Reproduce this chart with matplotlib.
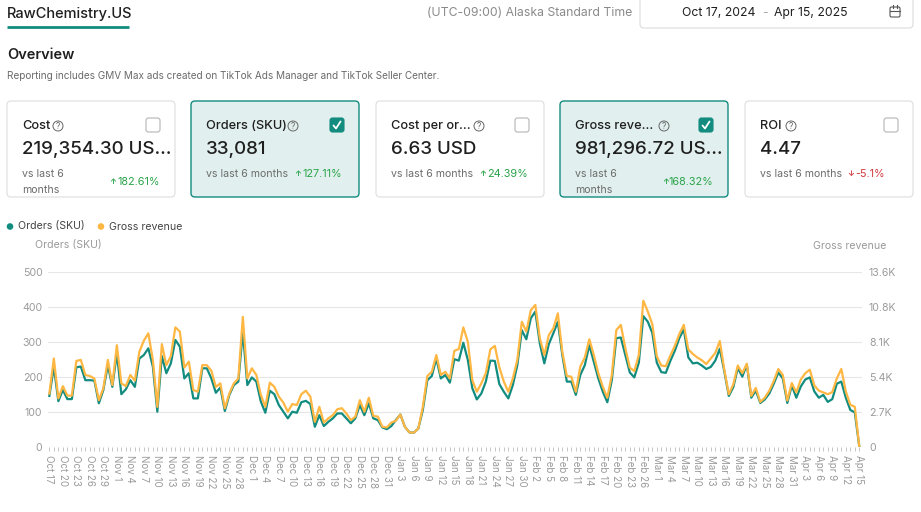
import numpy as np
import pandas as pd
import matplotlib
matplotlib.use("Agg")
import matplotlib.pyplot as plt
from matplotlib.patches import FancyBboxPatch, Circle

plt.rcParams['font.family'] = ['Inter', 'DejaVu Sans']

# daily values Oct 17, 2024 - Apr 15, 2025
dates = pd.date_range('2024-10-17', '2025-04-15', freq='D')
orders = [145, 228, 130, 162, 136, 136, 227, 229, 190, 190, 189, 124, 162, 233, 171,
          267, 150, 164, 190, 171, 252, 262, 281, 229, 100, 259, 210, 238, 305, 286,
          195, 210, 138, 138, 224, 224, 195, 154, 169, 102, 148, 176, 186, 329, 176,
          198, 186, 129, 97, 160, 150, 119, 100, 81, 100, 97, 127, 131, 122, 57,
          90, 59, 71, 81, 95, 95, 81, 67, 81, 119, 90, 124, 81, 76, 55,
          50, 59, 76, 92, 57, 41, 40, 52, 105, 190, 202, 252, 195, 205, 183,
          250, 246, 297, 248, 167, 135, 152, 186, 246, 245, 179, 157, 138, 176, 233,
          333, 307, 367, 386, 295, 238, 293, 324, 357, 262, 186, 186, 148, 205, 233,
          290, 243, 195, 157, 127, 190, 310, 312, 262, 212, 198, 240, 373, 357, 325,
          240, 213, 211, 245, 274, 310, 335, 255, 238, 240, 232, 222, 228, 246, 280,
          215, 145, 170, 225, 200, 235, 140, 160, 125, 135, 152, 180, 212, 195, 125,
          175, 140, 172, 192, 198, 158, 140, 148, 128, 136, 180, 186, 140, 105, 98, 0]
gross_revenue = [4134, 6854, 3754, 4706, 3971, 3971, 6664, 6746, 5576, 5494, 5304, 3618, 4542, 6746, 4787,
                 7888, 4923, 4706, 5576, 5141, 7371, 8242, 8813, 6746, 3101, 7970, 6338, 7045, 9275, 8949,
                 6147, 6610, 4406, 4270, 6338, 6338, 5902, 4651, 4923, 2992, 4134, 4923, 5304, 10091, 5304,
                 6093, 5576, 4026, 3101, 4978, 4651, 3890, 3427, 2720, 3318, 3237, 4080, 4352, 3890, 1931,
                 3101, 1877, 2203, 2448, 2910, 2992, 2584, 2067, 2339, 3618, 2720, 3808, 2394, 2339, 1550,
                 1496, 1877, 2013, 2502, 1550, 1115, 1088, 1414, 3101, 5494, 5821, 7126, 5576, 5821, 5304,
                 7453, 7589, 9275, 8160, 5168, 4270, 4923, 5712, 7562, 7834, 6174, 5059, 4270, 5304, 6746,
                 9710, 8949, 10608, 11016, 8432, 7126, 8677, 9194, 10363, 7371, 5494, 5440, 4270, 6229, 6936,
                 8350, 7126, 5712, 4651, 3808, 5576, 9058, 9466, 7670, 6147, 5875, 7126, 11342, 10499, 9520,
                 7018, 6310, 6256, 7072, 7834, 8758, 9466, 7562, 7208, 6936, 6718, 6419, 6854, 7290, 8214,
                 5984, 4080, 4842, 6310, 5712, 6446, 3944, 4570, 3482, 3808, 4352, 5114, 6038, 5576, 3590,
                 4950, 4216, 5222, 5712, 5984, 4760, 4352, 4216, 4080, 4243, 5304, 6038, 4298, 3264, 3101, 0]

order_ticks = [0, 100, 200, 300, 400, 500]
rev_ticks = [0, 2720, 5440, 8160, 10880, 13600]
rev_tick_labels = ['0', '2.7K', '5.4K', '8.1K', '10.8K', '13.6K']

card_titles = ['Cost', 'Orders (SKU)', 'Cost per or…', 'Gross reve…', 'ROI']
card_values = ['219,354.30 US…', '33,081', '6.63 USD', '981,296.72 US…', '4.47']
card_changes = ['182.61%', '127.11%', '24.39%', '168.32%', '-5.1%']
card_up = [True, True, True, True, False]
card_checked = [False, True, False, True, False]

TEAL = '#138c80'
ORANGE = '#ffb743'
GRAY = '#8a8a8a'
DARK = '#1f1f1f'

W, H = 921, 512
fig = plt.figure(figsize=(W / 100, H / 100), dpi=100)
fig.patch.set_facecolor('white')

# page layer in pixel coordinates
bg = fig.add_axes([0, 0, 1, 1])
bg.set_xlim(0, W)
bg.set_ylim(H, 0)
bg.axis('off')

bg.text(7, 14, 'RawChemistry.US', fontsize=10.5, color=DARK, va='center', fontweight='medium')
bg.plot([7, 129], [27, 27], color=TEAL, lw=2, solid_capstyle='butt')
bg.text(632, 13, '(UTC-09:00) Alaska Standard Time', fontsize=8.8, color=GRAY, va='center', ha='right')
bg.add_patch(FancyBboxPatch((640, -10), 273, 38, boxstyle='round,pad=0,rounding_size=4',
                            fc='white', ec='#dcdcdc', lw=0.8))
bg.text(719, 13, 'Oct 17, 2024', fontsize=8.8, color=DARK, va='center', ha='center')
bg.text(765, 13, '-', fontsize=8.8, color='#aaaaaa', va='center', ha='center')
bg.text(811, 13, 'Apr 15, 2025', fontsize=8.8, color=DARK, va='center', ha='center')
# calendar icon
bg.add_patch(FancyBboxPatch((890, 7), 10, 10, boxstyle='round,pad=0,rounding_size=1.5',
                            fc='none', ec='#555555', lw=0.8))
bg.plot([890, 900], [10.5, 10.5], color='#555555', lw=0.8)
bg.plot([893, 893], [5, 8], color='#555555', lw=0.8)
bg.plot([897, 897], [5, 8], color='#555555', lw=0.8)

bg.text(7, 55, 'Overview', fontsize=10.5, color=DARK, va='center', fontweight='semibold')
bg.text(7, 76, 'Reporting includes GMV Max ads created on TikTok Ads Manager and TikTok Seller Center.',
        fontsize=7.2, color='#6b6b6b', va='center')

card_x = [7, 191, 376, 560, 745]
q_x = [58, 293, 479, 664, 791]
for i, cx in enumerate(card_x):
    sel = card_checked[i]
    bg.add_patch(FancyBboxPatch((cx, 101), 168, 96, boxstyle='round,pad=0,rounding_size=4',
                                fc='#e1f0ee' if sel else 'white',
                                ec=TEAL if sel else '#dedede', lw=1.0 if sel else 0.8))
    bg.text(cx + 15, 126, card_titles[i], fontsize=9.2, color=DARK, va='center', fontweight='medium')
    bg.add_patch(Circle((q_x[i], 126), 5, fc='none', ec='#666666', lw=0.7))
    bg.text(q_x[i], 126.3, '?', fontsize=6, color='#666666', va='center', ha='center')
    # checkbox
    bx = cx + 139
    if sel:
        bg.add_patch(FancyBboxPatch((bx, 118), 14, 14, boxstyle='round,pad=0,rounding_size=2.5',
                                    fc=TEAL, ec=TEAL, lw=0.8))
        bg.plot([bx + 3.5, bx + 6, bx + 10.5], [125.5, 128.5, 121.5], color='white', lw=1.3,
                solid_capstyle='round', solid_joinstyle='round')
    else:
        bg.add_patch(FancyBboxPatch((bx, 118), 14, 14, boxstyle='round,pad=0,rounding_size=2.5',
                                    fc='white', ec='#b5b5b5', lw=0.8))
    bg.text(cx + 15, 150, card_values[i], fontsize=13.5, color=DARK, va='center', fontweight='medium')
    chg_col = '#2aa34a' if card_up[i] else '#d0393e'
    arrow = '↑' if card_up[i] else '↓'
    if i in (0, 3):
        bg.text(cx + 15, 174, 'vs last 6', fontsize=7.6, color='#6b6b6b', va='center')
        bg.text(cx + 15, 190, 'months', fontsize=7.6, color='#6b6b6b', va='center')
        bg.text(cx + 153, 182, card_changes[i], fontsize=7.8, color=chg_col, va='center', ha='right')
        bg.text(cx + 153 - 44, 182, arrow, fontsize=5.5, color=chg_col, va='center', ha='right',
                fontweight='bold')
    else:
        bg.text(cx + 15, 174, 'vs last 6 months', fontsize=7.6, color='#6b6b6b', va='center')
        px = cx + 111 if i != 4 else cx + 110
        bg.text(px - 1, 174, arrow, fontsize=5.5, color=chg_col, va='center', ha='right',
                fontweight='bold')
        bg.text(px, 174, card_changes[i], fontsize=7.8, color=chg_col, va='center')

# legend and axis titles
bg.add_patch(Circle((10, 226.5), 3.3, fc=TEAL, ec='none'))
bg.text(18, 226.5, 'Orders (SKU)', fontsize=7.6, color='#444444', va='center')
bg.add_patch(Circle((101, 226.5), 3.3, fc=ORANGE, ec='none'))
bg.text(109, 226.5, 'Gross revenue', fontsize=7.6, color='#444444', va='center')
bg.text(35, 245, 'Orders (SKU)', fontsize=7.6, color='#9a9a9a', va='center')
bg.text(886, 246, 'Gross revenue', fontsize=7.6, color='#9a9a9a', va='center', ha='right')

# chart
x = np.arange(len(dates))
ax = fig.add_axes([48 / W, 1 - 446.7 / H, (862 - 48) / W, (446.7 - 271.7) / H])
ax.set_facecolor('none')
ax2 = ax.twinx()

ax.plot(x, orders, color=TEAL, lw=1.6, solid_joinstyle='round', zorder=3)
ax2.plot(x, gross_revenue, color=ORANGE, lw=1.6, solid_joinstyle='round', zorder=2)

ax.set_xlim(-0.3, 180.6)
ax.set_ylim(0, 500)
ax2.set_ylim(0, 13600)
ax.set_yticks(order_ticks)
ax2.set_yticks(rev_ticks)
ax2.set_yticklabels(rev_tick_labels)
ax.yaxis.grid(True, color='#e6e6e6', lw=0.8)
ax.set_axisbelow(True)

labels = [f'{d:%b} {d.day}' if i % 3 == 0 else '' for i, d in enumerate(dates)]
ax.set_xticks(x)
ax.set_xticklabels(labels, rotation=-90, fontsize=7, color='#9a9a9a')

for a in (ax, ax2):
    for s in a.spines.values():
        s.set_visible(False)
ax.tick_params(axis='x', length=3, width=0.6, color='#bdbdbd', pad=3)
ax.tick_params(axis='y', length=0, pad=4, labelsize=7.6, labelcolor='#9a9a9a')
ax2.tick_params(axis='y', length=0, pad=5, labelsize=7.6, labelcolor='#9a9a9a')
ax2.tick_params(axis='x', length=0)

fig.savefig('out.png', dpi=100, facecolor='white')
